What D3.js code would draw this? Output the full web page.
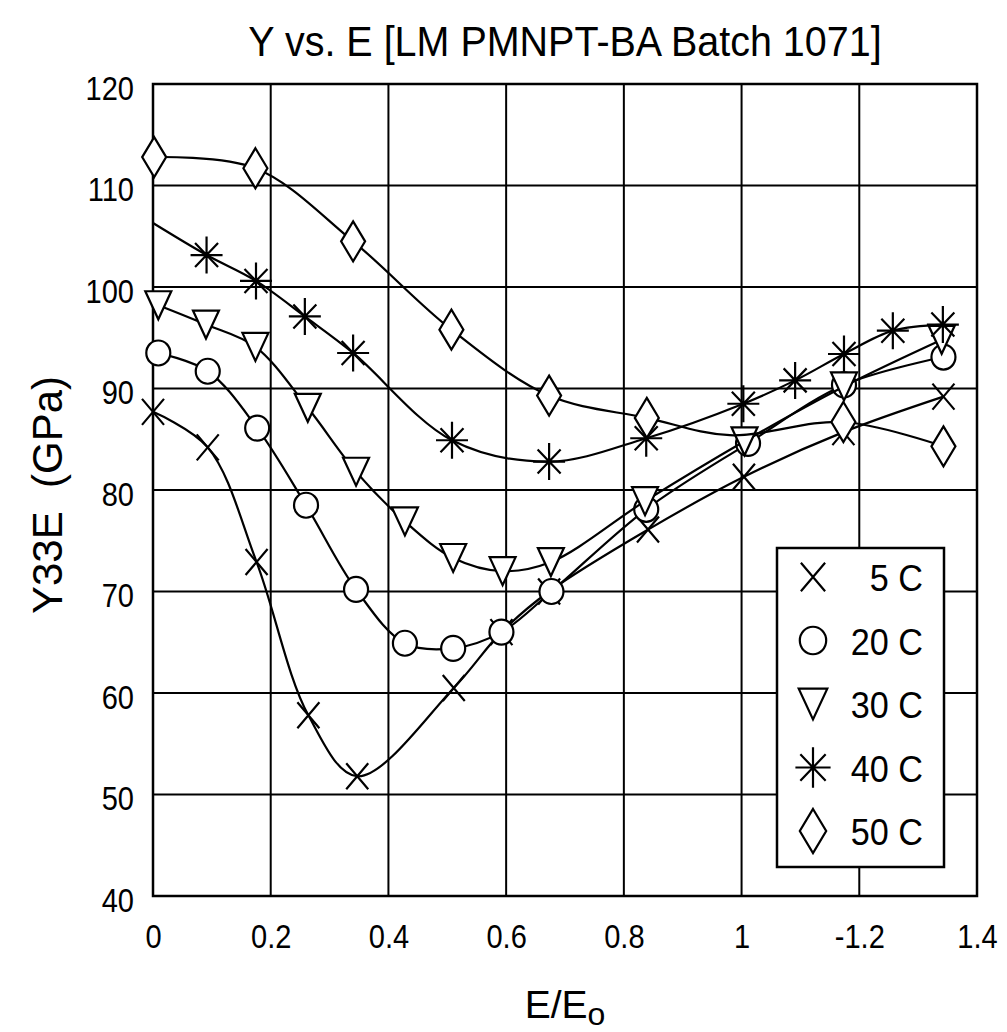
<!DOCTYPE html>
<html>
<head>
<meta charset="utf-8">
<script src="https://cdn.jsdelivr.net/npm/d3@7"></script>
<style>
  body { margin: 0; background: #fff; }
  text { font-family: "Liberation Sans", Arial, sans-serif; fill: #000; }
</style>
</head>
<body>
<div id="chart"></div>
<script>
// data
var seriesNames = ["5 C", "20 C", "30 C", "40 C", "50 C"];

var x5  = [0, 0.093, 0.176, 0.264, 0.347, 0.511, 0.592, 0.673, 0.841, 1.004, 1.173, 1.343];
var y5  = [87.7, 84.2, 72.9, 57.8, 51.8, 60.5, 66.0, 70.0, 76.1, 81.3, 85.7, 89.2];

var x20 = [0.009, 0.093, 0.177, 0.26, 0.345, 0.428, 0.51, 0.592, 0.677, 0.838, 1.011, 1.174, 1.343];
var y20 = [93.5, 91.7, 86.1, 78.5, 70.2, 64.9, 64.4, 66.0, 70.0, 78.1, 84.6, 90.35, 93.1];

var x30 = [0.009, 0.09, 0.174, 0.263, 0.345, 0.428, 0.51, 0.594, 0.676, 0.836, 1.005, 1.174, 1.34];
var y30 = [98.2, 96.3, 94.1, 88.1, 81.8, 76.9, 73.3, 72.0, 72.9, 78.9, 84.8, 90.2, 94.8];

var x40 = [0, 0.091, 0.175, 0.258, 0.34, 0.508, 0.673, 0.838, 1.003, 1.091, 1.174, 1.257, 1.342];
var y40 = [106.3, 103.15, 100.6, 97.1, 93.5, 84.9, 82.8, 85.1, 88.5, 90.8, 93.4, 95.7, 96.3];
var shown40 = [0, 1, 1, 1, 1, 1, 1, 1, 1, 1, 1, 1, 1];

var x50 = [0.002, 0.174, 0.34, 0.507, 0.673, 0.839, 0.98, 1.173, 1.343];
var y50 = [112.8, 111.7, 104.5, 95.8, 89.3, 87.1, 85.4, 86.7, 84.3];
var shown50 = [1, 1, 1, 1, 1, 1, 0, 1, 1];

var xTicks = [0, 0.2, 0.4, 0.6, 0.8, 1, 1.2, 1.4];
var xTickLabels = ["0", "0.2", "0.4", "0.6", "0.8", "1", "-1.2", "1.4"];
var yTicks = [40, 50, 60, 70, 80, 90, 100, 110, 120];

// marker shapes
var shapes = {
  cross: "M-11,-13L11,13M-11,13L11,-13",
  circle: "M-12,0A12,12.5 0 1,0 12,0A12,12.5 0 1,0 -12,0Z",
  tri: "M-13,-14L13,-14L0,14Z",
  star: "M-16,0H16M0,-18.5V18.5M-11.5,-12L11.5,12M-11.5,12L11.5,-12",
  diamond: "M0,-20L12,0L0,20L-12,0Z"
};

var series = [
  { xs: x5,  ys: y5,  shape: "cross" },
  { xs: x20, ys: y20, shape: "circle" },
  { xs: x30, ys: y30, shape: "tri" },
  { xs: x40, ys: y40, shape: "star", shown: shown40 },
  { xs: x50, ys: y50, shape: "diamond", shown: shown50 }
];

var W = 1007, H = 1032;
var margin = { left: 153, right: 30, top: 84, bottom: 136 },
    width = W - margin.left - margin.right,
    height = H - margin.top - margin.bottom;

var svg = d3.select("#chart").append("svg")
    .attr("width", W)
    .attr("height", H);

var g = svg.append("g")
    .attr("transform", "translate(" + margin.left + "," + margin.top + ")");

var x = d3.scaleLinear().domain([0, 1.4]).range([0, width]);
var y = d3.scaleLinear().domain([40, 120]).range([height, 0]);

// grid
g.append("g")
    .selectAll("line.h")
    .data(yTicks.slice(1, -1))
    .enter().append("line")
    .attr("x1", 0).attr("x2", width)
    .attr("y1", function(d) { return y(d); })
    .attr("y2", function(d) { return y(d); })
    .attr("stroke", "#000").attr("stroke-width", 2);

g.append("g")
    .selectAll("line.v")
    .data(xTicks.slice(1, -1))
    .enter().append("line")
    .attr("y1", 0).attr("y2", height)
    .attr("x1", function(d) { return x(d); })
    .attr("x2", function(d) { return x(d); })
    .attr("stroke", "#000").attr("stroke-width", 2);

g.append("rect")
    .attr("width", width).attr("height", height)
    .attr("fill", "none").attr("stroke", "#000").attr("stroke-width", 2.5);

// axes (labels only, grid drawn above)
var xAxis = g.append("g")
    .attr("transform", "translate(0," + height + ")")
    .call(d3.axisBottom(x).tickValues(xTicks).tickSize(0)
        .tickFormat(function(d, i) { return xTickLabels[i]; }));
xAxis.select(".domain").remove();
xAxis.selectAll("text")
    .attr("y", null).attr("dy", null)
    .attr("transform", "translate(0,52) scale(0.88,1)")
    .attr("font-size", "33px")
    .attr("font-family", "Liberation Sans, Arial, sans-serif");

var yAxis = g.append("g")
    .call(d3.axisLeft(y).tickValues(yTicks).tickSize(0));
yAxis.select(".domain").remove();
yAxis.selectAll("text")
    .attr("x", null).attr("dy", null)
    .attr("transform", "translate(-19,15) scale(0.88,1)")
    .attr("font-size", "33px")
    .attr("font-family", "Liberation Sans, Arial, sans-serif");

// series
var line = d3.line()
    .x(function(d) { return x(d[0]); })
    .y(function(d) { return y(d[1]); })
    .curve(d3.curveCatmullRom.alpha(0.5));

series.forEach(function(s) {
  var pts = s.xs.map(function(v, i) { return [v, s.ys[i], s.shown ? s.shown[i] : 1]; });
  g.append("path")
      .datum(pts)
      .attr("d", line)
      .attr("fill", "none")
      .attr("stroke", "#000")
      .attr("stroke-width", 2.2);
  g.selectAll(null)
      .data(pts.filter(function(p) { return p[2]; }))
      .enter().append("path")
      .attr("d", shapes[s.shape])
      .attr("transform", function(d) { return "translate(" + x(d[0]) + "," + y(d[1]) + ")"; })
      .attr("fill", s.shape === "cross" || s.shape === "star" ? "none" : "#fff")
      .attr("stroke", "#000")
      .attr("stroke-width", 2.2);
});

// legend
var legend = svg.append("g").attr("transform", "translate(777,548)");
legend.append("rect")
    .attr("width", 167).attr("height", 319)
    .attr("fill", "#fff").attr("stroke", "#000").attr("stroke-width", 2.5);

series.forEach(function(s, i) {
  var row = legend.append("g").attr("transform", "translate(0," + (i * 63.5) + ")");
  row.append("path")
      .attr("d", shapes[s.shape])
      .attr("transform", "translate(36,29) scale(1.1)")
      .attr("fill", s.shape === "cross" || s.shape === "star" ? "none" : "#fff")
      .attr("stroke", "#000")
      .attr("stroke-width", 2);
  row.append("text")
      .attr("transform", "translate(146,43) scale(0.95,1)")
      .attr("text-anchor", "end")
      .attr("font-size", "36px")
      .text(seriesNames[i]);
});

// title and axis labels
svg.append("text")
    .attr("transform", "translate(565,56) scale(0.94,1)")
    .attr("text-anchor", "middle")
    .attr("font-size", "42px")
    .text("Y vs. E [LM PMNPT-BA Batch 1071]");

svg.append("text")
    .attr("transform", "translate(62,495) rotate(-90)")
    .attr("text-anchor", "middle")
    .attr("font-size", "42px")
    .attr("xml:space", "preserve")
    .text("Y33E  (GPa)");

var xl = svg.append("text")
    .attr("transform", "translate(565,1018)")
    .attr("text-anchor", "middle")
    .attr("font-size", "39px");
xl.append("tspan").text("E/E");
xl.append("tspan").attr("dy", 7).attr("font-size", "32px").text("o");
</script>
</body>
</html>
